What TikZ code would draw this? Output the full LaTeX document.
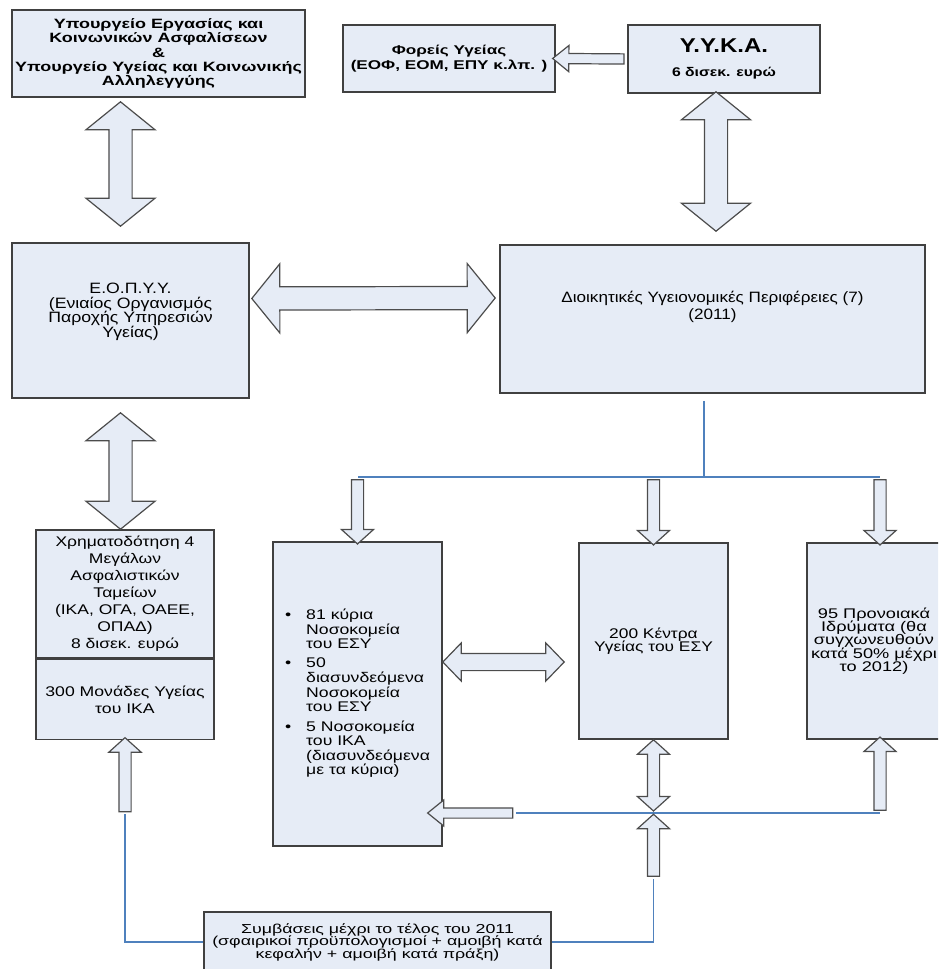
\documentclass[tikz,border=0pt]{standalone}
\usepackage{fontspec}
\setmainfont{Liberation Sans}
\usetikzlibrary{shapes.arrows,positioning,calc}
\definecolor{boxblue}{RGB}{230,236,246}
\definecolor{linkblue}{RGB}{79,129,189}
% size, leading, horizontal stretch
\newcommand{\wfont}[3]{\fontsize{#1}{#2}\selectfont\addfontfeatures{FakeStretch=#3}\lineskiplimit=-50pt}

\begin{document}
\begin{tikzpicture}[x=1pt,y=-1pt,
  box/.style={draw=black!75,fill=boxblue,line width=1.6pt,align=center,inner sep=2pt},
  link/.style={draw=linkblue,line width=1.5pt},
  blk/.style={draw=black!70,fill=boxblue,line width=1.2pt,inner xsep=0pt,outer sep=0pt},
  big/.style={inner ysep=11pt,single arrow head extend=23pt,double arrow head extend=23pt,
    single arrow tip angle=102,double arrow tip angle=102},
  mid/.style={inner ysep=8pt,double arrow head extend=10.5pt,double arrow tip angle=92},
  small/.style={inner ysep=5.5pt,single arrow head extend=10pt,double arrow head extend=10pt,
    single arrow tip angle=96,double arrow tip angle=96},
  thin/.style={inner ysep=4.5pt,single arrow head extend=8pt,single arrow tip angle=78},
  barrow/.style={to path={let \p1=(\tikztostart),\p2=(\tikztotarget),
    \n1={veclen(\x2-\x1,\y2-\y1)} in (\p1) -- (\p2)
    node[midway,sloped,allow upside down,blk,minimum height=\n1,#1] {}}}]
  \useasboundingbox (0,0) rectangle (938,969);
  \clip (0,0) rectangle (938,969);
  \coordinate (trunk) at (120.5,0);

  % top row
  \node[box,minimum width=293,minimum height=87,font={\wfont{13.5}{14.3}{1.33}\bfseries}] (min) at (158.5,53.5)
    {Υπουργείο Εργασίας και\\Κοινωνικών Ασφαλίσεων\\\&\\Υπουργείο Υγείας και Κοινωνικής\\Αλληλεγγύης};
  \node[box,minimum width=212,minimum height=67,font={\wfont{12.7}{15}{1.35}\bfseries}] (foreis) at (449,58.5)
    {Φορείς Υγείας\\(ΕΟΦ, ΕΟΜ, ΕΠΥ κ.λπ. )};
  \node[box,minimum width=192,minimum height=68,font={\wfont{12.6}{24}{1.25}\bfseries}] (yyka) at (724,59)
    {{\wfont{20}{22}{1.2}\bfseries Υ.Υ.Κ.Α.}\\6 δισεκ. ευρώ};

  % middle row
  \node[box,minimum width=237,minimum height=155,font={\wfont{15}{14.5}{1.18}}] (eopyy) at (130.5,320.5)
    {Ε.Ο.Π.Υ.Υ.\\(Ενιαίος Οργανισμός\\Παροχής Υπηρεσιών\\Υγείας)\\[6pt]};
  \node[box,minimum width=425,minimum height=148,font={\wfont{15}{17}{1.14}}] (dype) at (712.5,319)
    {Διοικητικές Υγειονομικές Περιφέρειες (7)\\(2011)\\[10pt]};

  % lower row
  \node[box,minimum width=178,minimum height=128,font={\wfont{14}{17}{1.25}}] (fund) at (125,594)
    {Χρηματοδότηση 4\\Μεγάλων\\Ασφαλιστικών\\Ταμείων\\(ΙΚΑ, ΟΓΑ, ΟΑΕΕ,\\ΟΠΑΔ)\\8 δισεκ. ευρώ};
  \node[box,minimum width=178,minimum height=80,font={\wfont{14}{17}{1.26}},below=0pt of fund] (units)
    {300 Μονάδες Υγείας\\του ΙΚΑ};
  \node[box,minimum width=169,minimum height=304,
        font={\fontsize{14}{14.2}\selectfont\addfontfeatures{FakeStretch=1.26}}] (hosp) at (357.5,694)
    {\begin{tabular}{@{}c@{\hspace{15pt}}l@{}}
      \textbullet & 81 κύρια\\
       & Νοσοκομεία\\
       & του ΕΣΥ\\[5pt]
      \textbullet & 50\\
       & διασυνδεόμενα\\
       & Νοσοκομεία\\
       & του ΕΣΥ\\[5pt]
      \textbullet & 5 Νοσοκομεία\\
       & του ΙΚΑ\\
       & (διασυνδεόμενα\\
       & με τα κύρια)
    \end{tabular}};
  \node[box,minimum width=149,minimum height=196,font={\wfont{14}{12.5}{1.24}}] (kentra) at (653.5,641)
    {200 Κέντρα\\Υγείας του ΕΣΥ};
  \node[box,minimum width=134,minimum height=196,font={\wfont{14}{13.3}{1.3}}] (pron) at (874,641)
    {95 Προνοιακά\\Ιδρύματα (θα\\συγχωνευθούν\\κατά 50\% μέχρι\\το 2012)};
  \node[box,minimum width=347,minimum height=60,font={\wfont{13}{12.5}{1.37}}] (contr) at (377.5,942)
    {Συμβάσεις μέχρι το τέλος του 2011\\(σφαιρικοί προϋπολογισμοί + αμοιβή κατά\\κεφαλήν + αμοιβή κατά πράξη)};

  % blue lines
  \coordinate (split) at (704,477);
  \coordinate (pronx) at ([xshift=6pt]pron.center);
  \coordinate (cross) at (kentra.south |- 0,813);
  \coordinate (low) at ([yshift=-66pt]cross);
  \coordinate (fundlow) at ([yshift=-74pt]units.south);
  \coordinate (hospin) at ([xshift=73pt]hosp.east |- cross);
  \draw[link] ([yshift=-7pt]dype.south -| split) -- (split) -- (hosp.north |- split);
  \draw[link] (split) -- (pronx |- split);
  \draw[link] (hospin) -- (pronx |- cross);
  \draw[link] (low) |- (contr.east);
  \draw[link] (contr.west) -| (fundlow);

  % block arrows
  \path ([yshift=-4pt]min.south -| trunk) to[barrow={double arrow,big}] ([yshift=16pt]eopyy.north -| trunk);
  \path ([xshift=-8pt,yshift=2pt]yyka.south) to[barrow={double arrow,big}] ([xshift=3.5pt,yshift=13pt]dype.north);
  \path (yyka.west) to[barrow={single arrow,thin}] (foreis.east);
  \path ([xshift=2pt,yshift=22pt]eopyy.east) to[barrow={double arrow,big}] ([xshift=-4pt,yshift=21pt]dype.west);
  \path ([yshift=-14pt]eopyy.south -| trunk) to[barrow={double arrow,big}] (fund.north -| trunk);
  \path (hosp.north |- split) to[barrow={single arrow,small}] (hosp.north);
  \path (kentra.north |- split) to[barrow={single arrow,small}] (kentra.north);
  \path (pronx |- split) to[barrow={single arrow,small}] (pronx |- pron.north);
  \path ([yshift=32pt]hosp.east) to[barrow={double arrow,mid}] ([xshift=-14pt,yshift=32pt]hosp.east -| kentra.west);
  \path (kentra.south) to[barrow={double arrow,small}] ([yshift=2pt]cross);
  \path (low) to[barrow={single arrow,small}] ([yshift=-4pt]cross);
  \path (pronx |- cross) to[barrow={single arrow,small}] (pronx |- pron.south);
  \path (hospin) to[barrow={single arrow,thin}] ([xshift=-12pt]hosp.east |- cross);
  \path (fundlow) to[barrow={single arrow,small}] (units.south);
\end{tikzpicture}
\end{document}
